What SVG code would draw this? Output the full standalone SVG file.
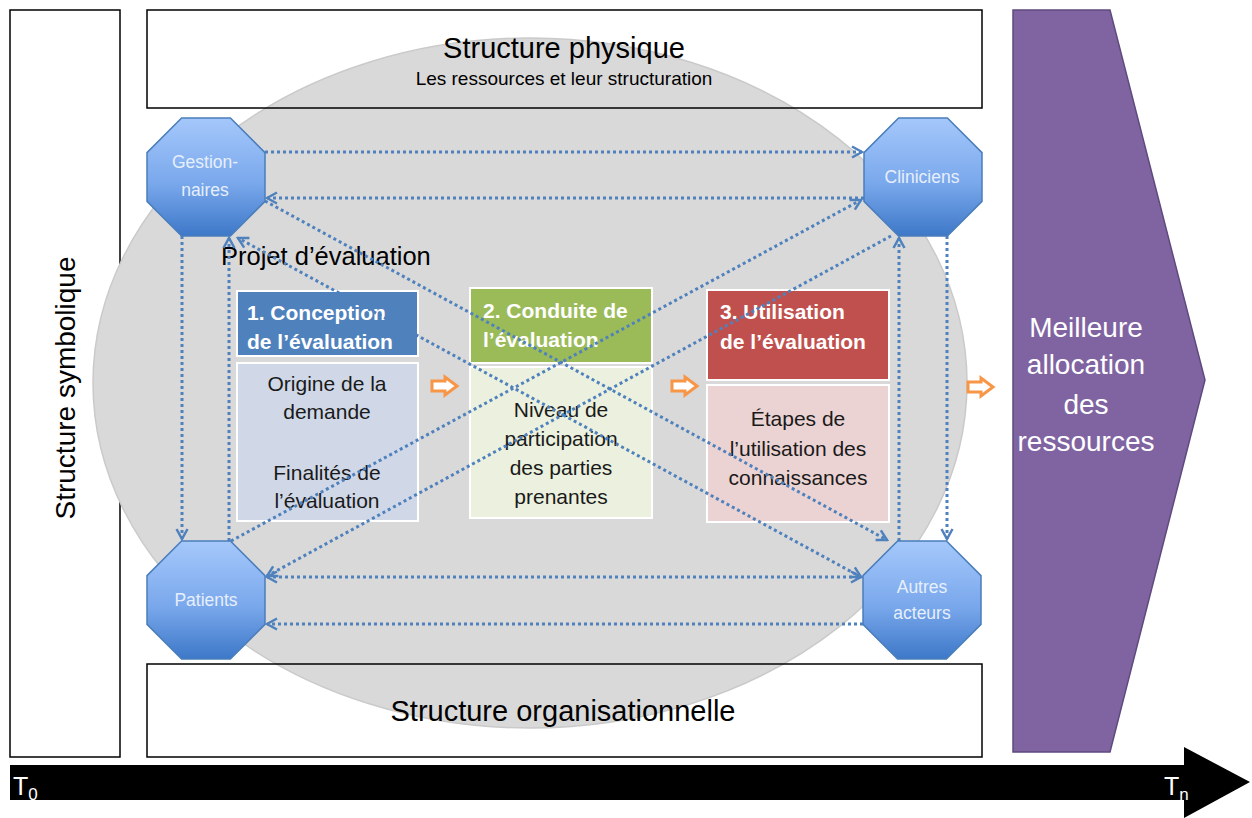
<svg xmlns="http://www.w3.org/2000/svg" width="1252" height="818" viewBox="0 0 1252 818">
<style>
.frame{fill:none;stroke:#000;stroke-width:1.5}
.t{font-family:"Liberation Sans",Arial,sans-serif;fill:#000}
.w{fill:#fff}
.hd{font-family:"Liberation Sans",Arial,sans-serif;font-weight:bold;font-size:21px;fill:#fff}
.bd{font-family:"Liberation Sans",Arial,sans-serif;font-size:21px;fill:#1a1a1a;text-anchor:middle}
.oct{fill:url(#og);stroke:#4a7ebb;stroke-width:1.5}
.ot{font-family:"Liberation Sans",Arial,sans-serif;font-size:17.5px;fill:#e6effb;text-anchor:middle}
.conn path{fill:none;stroke:#4f81bd;stroke-width:3;stroke-dasharray:3 3}
.oa{fill:#fff;stroke:#f79646;stroke-width:3;stroke-linejoin:miter}
</style>
<defs>
<linearGradient id="og" x1="0" y1="0" x2="0" y2="1">
<stop offset="0" stop-color="#a5c8fb"/>
<stop offset="0.55" stop-color="#7aa8ec"/>
<stop offset="1" stop-color="#3d78c8"/>
</linearGradient>
<marker id="ah" viewBox="0 0 14 14" refX="12" refY="7" markerWidth="14" markerHeight="14" markerUnits="userSpaceOnUse" orient="auto-start-reverse">
<path d="M2,1.5 L12,7 L2,12.5" fill="none" stroke="#4f81bd" stroke-width="2.5"/>
</marker>
</defs>
<rect width="1252" height="818" fill="#fff"/>

<g id="structure-symbolique">
<rect class="frame" x="10" y="10" width="110" height="747"/>
<text class="t" font-size="28" text-anchor="middle" transform="translate(75,388) rotate(-90)">Structure symbolique</text>
</g>

<g id="projet">
<ellipse cx="530" cy="383" rx="437" ry="345" fill="#d9d9d9" stroke="#cacaca" stroke-width="1.5"/>
</g>

<g id="structure-physique">
<rect class="frame" x="147" y="10" width="835" height="98"/>
<text class="t" x="564" y="58" font-size="29" text-anchor="middle">Structure physique</text>
<text class="t" x="564" y="85" font-size="19" text-anchor="middle">Les ressources et leur structuration</text>
</g>

<g id="structure-organisationnelle">
<rect class="frame" x="147" y="664" width="835" height="93"/>
<text class="t" x="563" y="721" font-size="29" text-anchor="middle">Structure organisationnelle</text>
</g>

<text id="projet-label" class="t" x="221" y="265" font-size="25.5">Projet d’évaluation</text>

<g id="box1">
<rect x="237" y="291" width="181" height="65" fill="#4f81bd" stroke="#fff" stroke-width="2"/>
<rect x="237" y="363" width="181" height="158" fill="#d0d8e8" stroke="#fff" stroke-width="2"/>
<text class="hd" x="247" y="320">1. Conception</text>
<text class="hd" x="247" y="349">de l’évaluation</text>
<text class="bd" x="327" y="391">Origine de la</text>
<text class="bd" x="327" y="419">demande</text>
<text class="bd" x="327" y="480">Finalités de</text>
<text class="bd" x="327" y="508">l’évaluation</text>
</g>

<g id="box2">
<rect x="470" y="288" width="182" height="75" fill="#9bbb59" stroke="#fff" stroke-width="2"/>
<rect x="470" y="367" width="182" height="151" fill="#ebf1de" stroke="#fff" stroke-width="2"/>
<text class="hd" x="483" y="318">2. Conduite de</text>
<text class="hd" x="483" y="347">l’évaluation</text>
<text class="bd" x="561" y="417">Niveau de</text>
<text class="bd" x="561" y="446">participation</text>
<text class="bd" x="561" y="475">des parties</text>
<text class="bd" x="561" y="504">prenantes</text>
</g>

<g id="box3">
<rect x="707" y="290" width="182" height="90" fill="#c0504d" stroke="#fff" stroke-width="2"/>
<rect x="707" y="385" width="182" height="137" fill="#ecd3d3" stroke="#fff" stroke-width="2"/>
<text class="hd" x="720" y="319">3. Utilisation</text>
<text class="hd" x="720" y="349">de l’évaluation</text>
<text class="bd" x="798" y="426">Étapes de</text>
<text class="bd" x="798" y="456">l’utilisation des</text>
<text class="bd" x="798" y="485">connaissances</text>
</g>

<g id="flow-arrows">
<path class="oa" d="M432,381 H445 V377 L457,386 L445,395 V391 H432 Z"/>
<path class="oa" d="M672,381 H685 V377 L697,386 L685,395 V391 H672 Z"/>
<path class="oa" d="M968,382 H981 V378 L993,387 L981,396 V392 H968 Z"/>
</g>

<g id="connectors" class="conn">
<path d="M265,152 L862,152" marker-end="url(#ah)"/>
<path d="M864,198 L267,198" marker-end="url(#ah)"/>
<path d="M182,236 L182,539" marker-end="url(#ah)"/>
<path d="M229,541 L229,238" marker-end="url(#ah)"/>
<path d="M899,541 L899,238" marker-end="url(#ah)"/>
<path d="M947,236 L947,539" marker-end="url(#ah)"/>
<path d="M267,577 L861,577" marker-start="url(#ah)" marker-end="url(#ah)"/>
<path d="M863,624 L267,624" marker-end="url(#ah)"/>
<path d="M861,577 L238,238" marker-start="url(#ah)" marker-end="url(#ah)"/>
<path d="M265,201 L887,540" marker-end="url(#ah)"/>
<path d="M231,541 L861,200" marker-end="url(#ah)"/>
<path d="M891,236 L267,576" marker-end="url(#ah)"/>
</g>

<g id="gestionnaires">
<polygon class="oct" points="181.6,118 230.4,118 265,152.6 265,201.4 230.4,236 181.6,236 147,201.4 147,152.6"/>
<text class="ot" x="205" y="168">Gestion-</text>
<text class="ot" x="205" y="196">naires</text>
</g>
<g id="cliniciens">
<polygon class="oct" points="898.6,118 947.4,118 982,152.6 982,201.4 947.4,236 898.6,236 864,201.4 864,152.6"/>
<text class="ot" x="922" y="183">Cliniciens</text>
</g>
<g id="patients">
<polygon class="oct" points="181.6,541 230.4,541 265,575.6 265,624.4 230.4,659 181.6,659 147,624.4 147,575.6"/>
<text class="ot" x="206" y="606">Patients</text>
</g>
<g id="autres-acteurs">
<polygon class="oct" points="897.6,541 946.4,541 981,575.6 981,624.4 946.4,659 897.6,659 863,624.4 863,575.6"/>
<text class="ot" x="922" y="593">Autres</text>
<text class="ot" x="922" y="619">acteurs</text>
</g>

<g id="resultat">
<polygon points="1013,10 1110,10 1205,380 1110,752 1013,752" fill="#8064a2" stroke="#5f4a7e" stroke-width="1.5"/>
<text class="t w" font-size="28" text-anchor="middle" x="1086" y="337">Meilleure</text>
<text class="t w" font-size="28" text-anchor="middle" x="1086" y="374">allocation</text>
<text class="t w" font-size="28" text-anchor="middle" x="1086" y="414">des</text>
<text class="t w" font-size="28" text-anchor="middle" x="1086" y="451">ressources</text>
</g>

<g id="temps">
<polygon points="10,765 1184,765 1184,747 1250,782 1184,818 1184,800 10,800" fill="#000"/>
<text class="t w" x="13" y="795" font-size="25">T<tspan font-size="17" dy="5">0</tspan></text>
<text class="t w" x="1164" y="795" font-size="25">T<tspan font-size="17" dy="5">n</tspan></text>
</g>
</svg>
